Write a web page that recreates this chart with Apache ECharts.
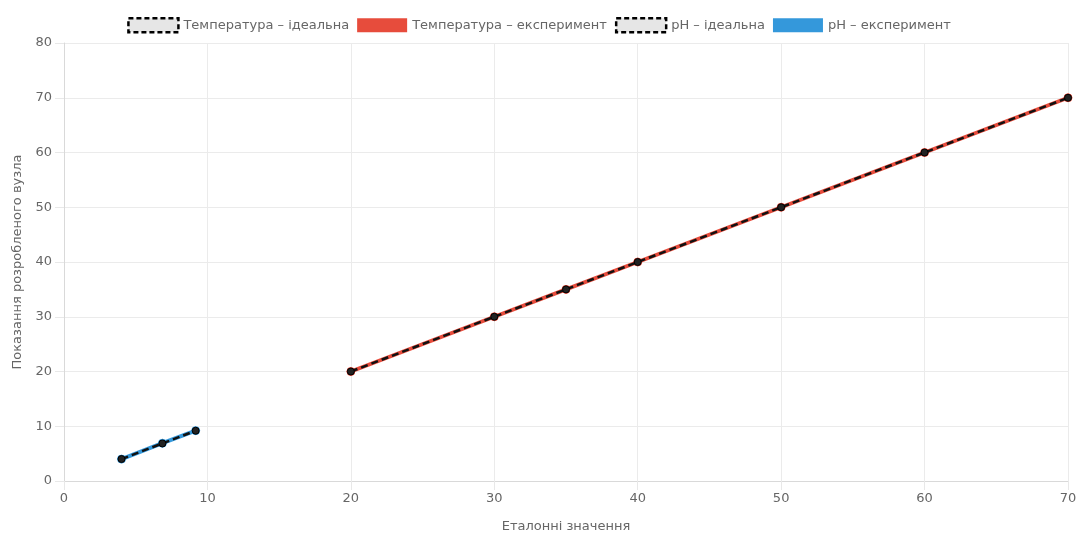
<!DOCTYPE html>
<html><head><meta charset="utf-8">
<script src="https://cdn.jsdelivr.net/npm/echarts@6/dist/echarts.min.js"></script>
<style>html,body{margin:0;padding:0;background:#fff}#c{width:1078px;height:538px}</style>
</head><body><div id="c"></div>
<script>
const seriesNames = ['Температура – ідеальна','Температура – експеримент','pH – ідеальна','pH – експеримент'];
const tempRef = [20, 30, 35, 40, 50, 60, 70];
const tempIdeal = [20, 30, 35, 40, 50, 60, 70];
const tempExp = [20, 30, 35, 40, 50, 60, 70];
const phRef = [4.01, 6.86, 9.18];
const phIdeal = [4.01, 6.86, 9.18];
const phExp = [4.0, 6.9, 9.2];
const xTitle = 'Еталонні значення';
const yTitle = 'Показання розробленого вузла';

const pairs = (xs, ys) => xs.map((x, i) => [x, ys[i]]);
const red = '#e74c3c', blue = '#3498db';
const font = 'DejaVu Sans, sans-serif';

function expSeries(name, xs, ys, color){
  return {name, type:'line', data:pairs(xs, ys), z:2,
    lineStyle:{color, width:4}, itemStyle:{color, borderColor:color},
    symbol:'circle', symbolSize:8, showSymbol:true, animation:false};
}
function idealSeries(name, xs, ys){
  return {name, type:'line', data:pairs(xs, ys), z:3,
    lineStyle:{color:'#111', width:2.5, type:[7,4]}, itemStyle:{color:'#222', borderColor:'#000'},
    symbol:'circle', symbolSize:7, animation:false};
}
const idealLegend = {itemStyle:{color:'#e6e6e6', borderColor:'#000', borderWidth:2.5, borderType:[5,3]}};

const chart = echarts.init(document.getElementById('c'));
chart.setOption({
  animation:false,
  textStyle:{fontFamily:font},
  legend:{
    top:12, left:'center', itemWidth:50, itemHeight:14, itemGap:8, icon:'rect',
    textStyle:{color:'#666', fontSize:13, fontFamily:font},
    data:[
      Object.assign({name:seriesNames[0]}, idealLegend),
      {name:seriesNames[1], itemStyle:{color:red, borderColor:red}},
      Object.assign({name:seriesNames[2]}, idealLegend),
      {name:seriesNames[3], itemStyle:{color:blue, borderColor:blue}}
    ]
  },
  grid:{left:64, right:10, top:43, bottom:57, containLabel:false, outerBoundsMode:'none'},
  xAxis:{type:'value', min:0, max:70, interval:10,
    name:xTitle, nameLocation:'middle', nameGap:39,
    nameTextStyle:{color:'#666', fontSize:13, fontFamily:font},
    axisLine:{show:true, lineStyle:{color:'#d9d9d9'}},
    axisTick:{show:true, length:9, lineStyle:{color:'#e8e8e8'}},
    axisLabel:{color:'#666', fontSize:13, margin:11},
    splitLine:{show:true, lineStyle:{color:'#ebebeb'}}},
  yAxis:{type:'value', min:0, max:80, interval:10,
    name:yTitle, nameLocation:'middle', nameGap:40,
    nameTextStyle:{color:'#666', fontSize:13, fontFamily:font},
    axisLine:{show:true, lineStyle:{color:'#d9d9d9'}},
    axisTick:{show:true, length:9, lineStyle:{color:'#e8e8e8'}},
    axisLabel:{color:'#666', fontSize:13, margin:12},
    splitLine:{show:true, lineStyle:{color:'#ebebeb'}}},
  series:[
    idealSeries(seriesNames[0], tempRef, tempIdeal),
    expSeries(seriesNames[1], tempRef, tempExp, red),
    idealSeries(seriesNames[2], phRef, phIdeal),
    expSeries(seriesNames[3], phRef, phExp, blue)
  ]
});
</script></body></html>
